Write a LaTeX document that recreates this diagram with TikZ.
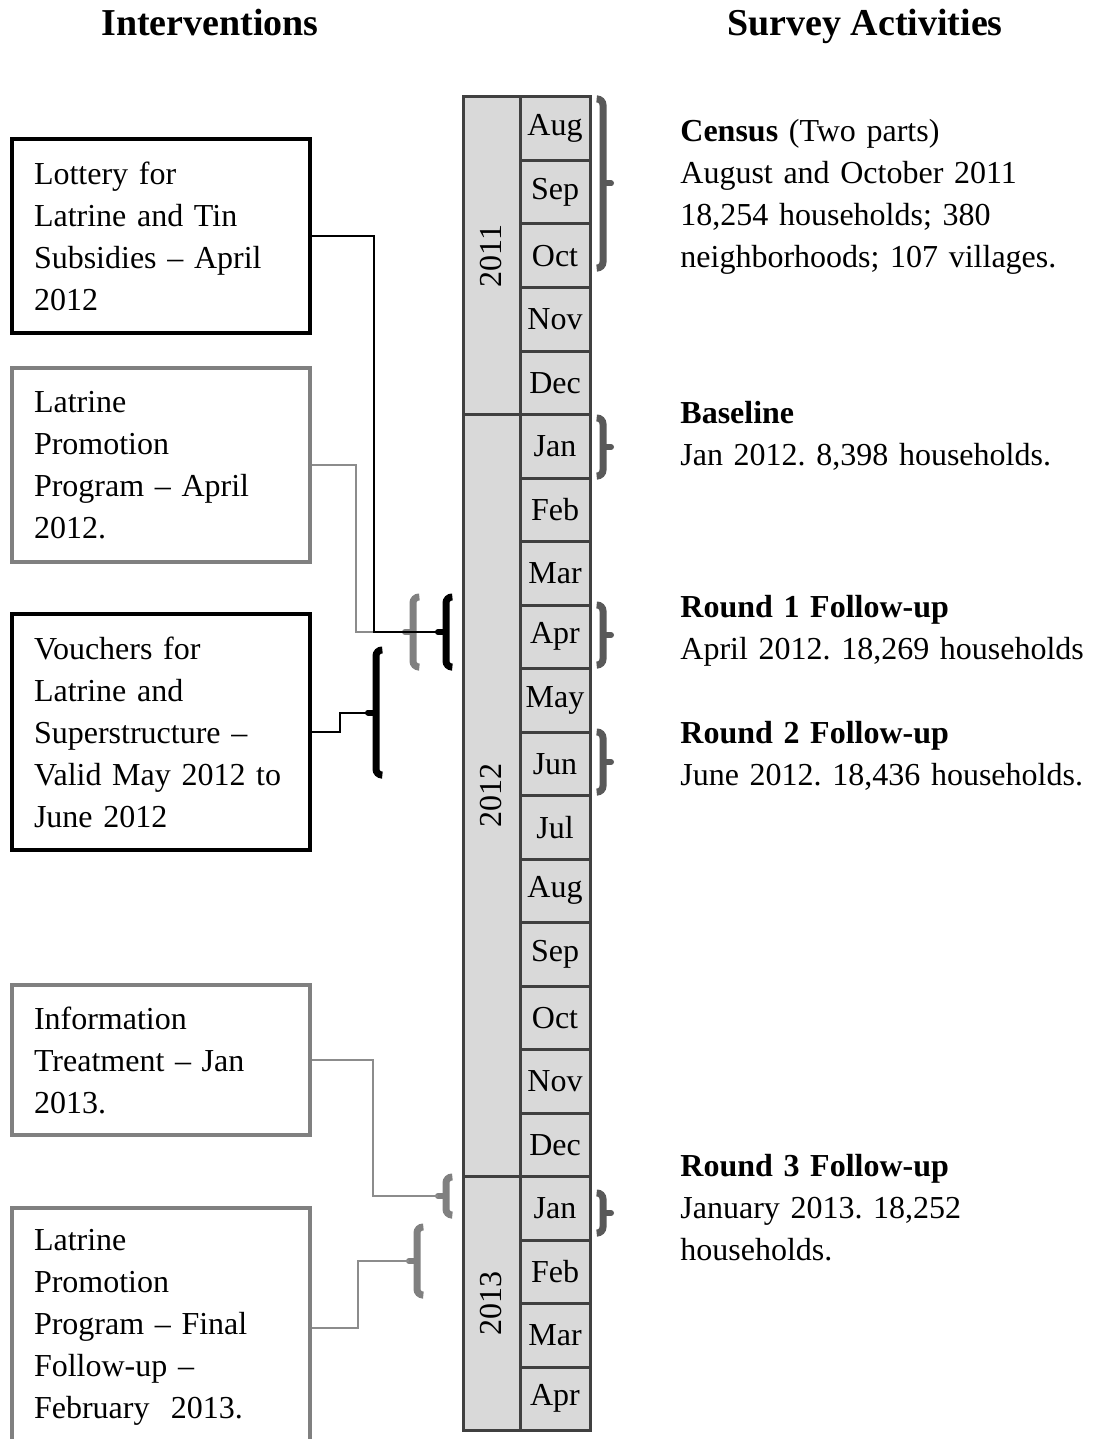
\documentclass[tikz,border=0pt]{standalone}
\usepackage{fontspec}
\setmainfont{Liberation Serif}
\usetikzlibrary{calc}
\definecolor{cellgray}{HTML}{D9D9D9}
\definecolor{celledge}{HTML}{404040}
\definecolor{boxgray}{HTML}{808080}
\definecolor{linegray}{HTML}{8C8C8C}
\definecolor{bracedark}{HTML}{595959}
\frenchspacing
% bracket: name of tip, x, top, bottom, side (1 tip right, -1 tip left), colour
\newcommand{\brak}[6]{%
  \draw[#6,line width=3.5pt,line cap=round,rounded corners=3pt] ({#2-5*(#5)},#3) -- (#2,#3) -- (#2,#4) -- ({#2-5*(#5)},#4);
  \draw[#6,line width=3pt,line cap=round] (#2,{(#3+#4)/2}) -- ++({8*(#5)},0) coordinate (#1);}
\begin{document}
\begin{tikzpicture}[x=0.5pt,y=-0.5pt,font=\fontsize{16}{21}\selectfont,
  head/.style={font=\fontsize{19}{23}\selectfont\bfseries,anchor=base},
  ibox/.style={draw,line width=2pt,anchor=north west,inner xsep=11pt,text width=127pt,align=left},
  survey/.style={anchor=base west,inner sep=0pt,text width=215pt,align=left},
  month/.style={draw=celledge,line width=1.5pt,fill=cellgray,minimum width=35pt,minimum height=31.75pt,inner sep=0pt},
  yearbox/.style={draw=celledge,line width=1.5pt,fill=cellgray,minimum width=28.5pt,inner sep=0pt},
  conn/.style={line width=1pt}]
\useasboundingbox (0,0) rectangle (1101,1439);
%	\draw[dashed,thin,gray] (0,0) grid[step=100] (1101,1439);
\node[head] (hint) at (210,36) {Interventions};
\node[head] (hsur) at (865,36) {Survey Activities};

% intervention boxes
\node[ibox,minimum height=97pt] (lot) at (10,137) {Lottery for\\Latrine and Tin\\Subsidies -- April\\2012};
\node[ibox,draw=boxgray,minimum height=97pt] (promo) at (10,366) {Latrine\\Promotion\\Program -- April\\2012.};
\node[ibox,minimum height=118pt] (vouch) at (10,612) {Vouchers for\\Latrine and\\Superstructure --\\Valid May 2012 to\\June 2012};
\node[ibox,draw=boxgray,minimum height=75pt] (info) at (10,983) {Information\\Treatment -- Jan\\2013.};
\node[ibox,draw=boxgray,minimum height=119.5pt] (final) at (10,1206) {Latrine\\Promotion\\Program -- Final\\Follow-up --\\February~ 2013.};

% time line
\node[yearbox,minimum height=158.75pt] (y2011) at (491.5,255.75) {};
\node[yearbox,minimum height=381pt] (y2012) at (491.5,795.5) {};
\node[yearbox,minimum height=127pt] (y2013) at (491.5,1303.5) {};
\foreach \y in {2011,2012,2013}
  \node[rotate=90] at (y\y) {\y};
\foreach \m [count=\i from 0] in {Aug,Sep,Oct,Nov,Dec,Jan,Feb,Mar,Apr,May,Jun,Jul,Aug,Sep,Oct,Nov,Dec,Jan,Feb,Mar,Apr}
  \node[month] (m\i) at (555,{128.75+63.5*\i}) {\m};

% survey activities
\node[survey] (census) at (680,142) {\textbf{Census} (Two parts)\\August and October 2011\\18,254 households; 380\\neighborhoods; 107 villages.};
\node[survey] (base) at (680,423) {\textbf{Baseline}\\Jan 2012. 8,398 households.};
\node[survey] (r1) at (680,617) {\textbf{Round 1 Follow-up}\\April 2012. 18,269 households};
\node[survey] (r2) at (680,743) {\textbf{Round 2 Follow-up}\\June 2012. 18,436 households.};
\node[survey] (r3) at (680,1176) {\textbf{Round 3 Follow-up}\\January 2013. 18,252\\households.};
\brak{censusT}{603}{99}{268}{1}{bracedark}
\brak{baseT}{603}{418}{476}{1}{bracedark}
\brak{r1T}{603}{605}{665}{1}{bracedark}
\brak{r2T}{603}{732}{792}{1}{bracedark}
\brak{r3T}{603}{1193}{1233}{1}{bracedark}

% brackets and connectors
\brak{promoT}{413}{597}{667}{-1}{boxgray}
\draw[conn,linegray] (promo.east) -| ($(promoT)+(-49,0)$) -- (promoT);
\brak{lotT}{446}{597}{667}{-1}{black}
\draw[conn] (lot.east) -| ($(lotT)+(-64,0)$) -- (lotT);
\brak{vouchT}{376}{650}{775}{-1}{black}
\draw[conn] (vouch.east) -| ($(vouchT)+(-28,0)$) -- (vouchT);
\brak{infoT}{446}{1177}{1215}{-1}{boxgray}
\draw[conn,linegray] (info.east) -| ($(infoT)+(-65,0)$) -- (infoT);
\brak{finalT}{417}{1227}{1295}{-1}{boxgray}
\draw[conn,linegray] (final.east) -| ($(finalT)+(-51,0)$) -- (finalT);
\end{tikzpicture}
\end{document}
